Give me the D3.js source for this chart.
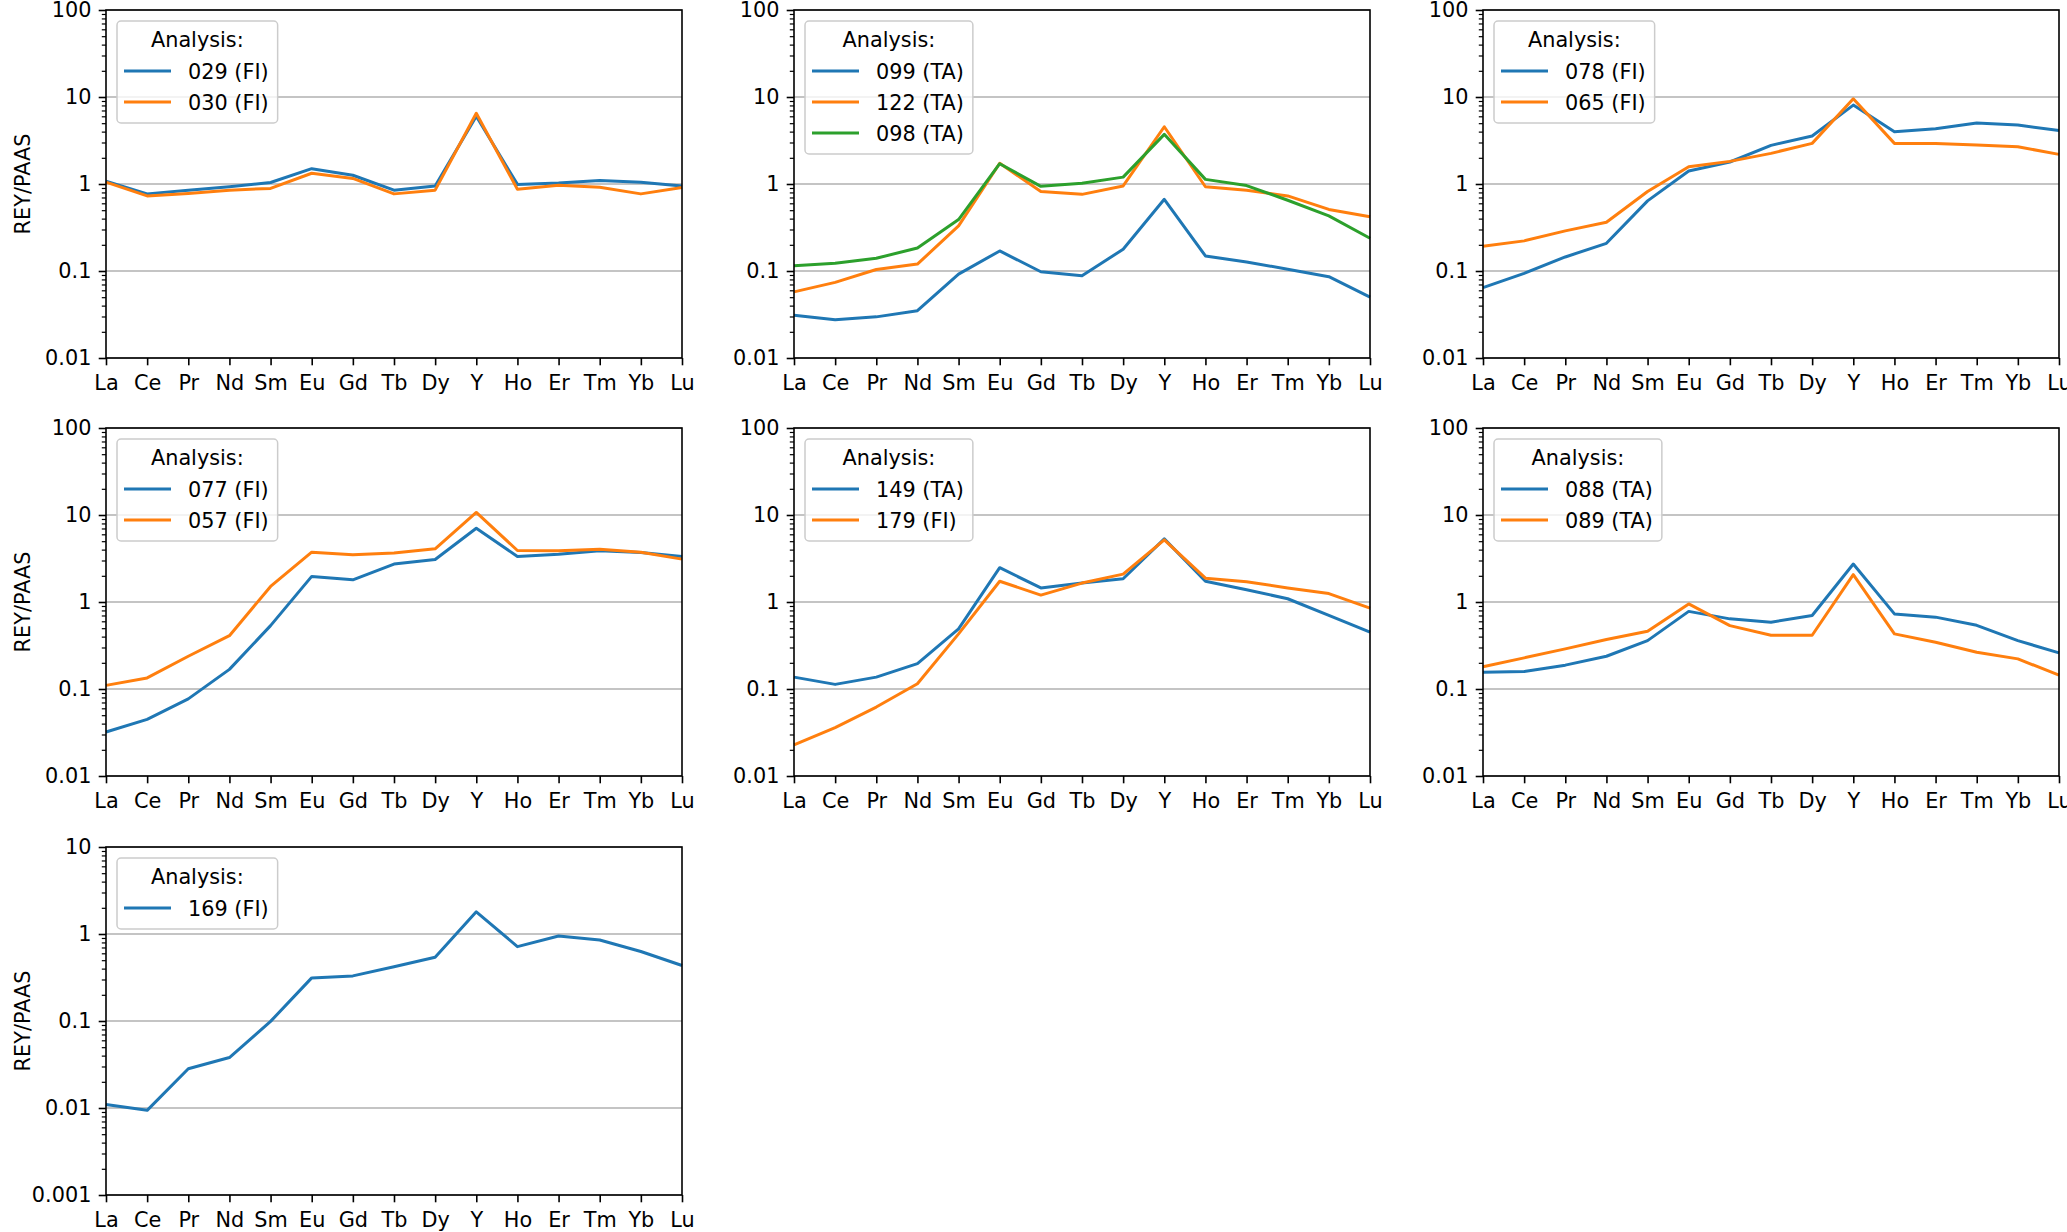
<!DOCTYPE html>
<html>
<head>
<meta charset="utf-8">
<script src="https://cdn.jsdelivr.net/npm/d3@7"></script>
<style>
  body { margin: 0; background: #fff; }
  text { font-family: "DejaVu Sans", sans-serif; }
</style>
</head>
<body>
<script>
var W = 2067, H = 1232;
var fontSize = 20.8;
var colors = ["#1f77b4", "#ff7f0e", "#2ca02c"];

// elements along the x axis
var elements = ["La", "Ce", "Pr", "Nd", "Sm", "Eu", "Gd", "Tb", "Dy", "Y", "Ho", "Er", "Tm", "Yb", "Lu"];

// REY/PAAS values
var a029 = [1.08, 0.77, 0.85, 0.93, 1.04, 1.50, 1.26, 0.85, 0.95, 6.0, 0.99, 1.03, 1.10, 1.05, 0.95];
var a030 = [1.05, 0.73, 0.78, 0.85, 0.89, 1.33, 1.16, 0.77, 0.85, 6.5, 0.87, 0.97, 0.92, 0.77, 0.91];

var a099 = [0.031, 0.0275, 0.0297, 0.035, 0.092, 0.17, 0.098, 0.088, 0.178, 0.667, 0.149, 0.127, 0.105, 0.086, 0.050];
var a122 = [0.0575, 0.074, 0.104, 0.12, 0.33, 1.73, 0.82, 0.76, 0.95, 4.55, 0.93, 0.85, 0.73, 0.51, 0.42];
var a098 = [0.115, 0.123, 0.14, 0.184, 0.39, 1.71, 0.94, 1.02, 1.20, 3.72, 1.13, 0.96, 0.65, 0.43, 0.238];

var a078 = [0.0645, 0.094, 0.145, 0.208, 0.64, 1.41, 1.79, 2.78, 3.56, 8.07, 3.99, 4.32, 5.02, 4.76, 4.13];
var a065 = [0.192, 0.222, 0.289, 0.363, 0.82, 1.58, 1.82, 2.25, 2.93, 9.55, 2.93, 2.93, 2.80, 2.68, 2.19];

var a077 = [0.032, 0.0448, 0.077, 0.168, 0.535, 1.97, 1.80, 2.73, 3.08, 7.05, 3.34, 3.55, 3.88, 3.71, 3.34];
var a057 = [0.110, 0.134, 0.238, 0.41, 1.51, 3.74, 3.49, 3.65, 4.09, 10.7, 3.91, 3.88, 4.05, 3.74, 3.11];

var a149 = [0.137, 0.113, 0.137, 0.196, 0.49, 2.48, 1.45, 1.65, 1.85, 5.32, 1.73, 1.38, 1.09, 0.70, 0.45];
var a179 = [0.0228, 0.036, 0.062, 0.115, 0.43, 1.73, 1.20, 1.65, 2.09, 5.18, 1.88, 1.71, 1.45, 1.25, 0.85];

var a088 = [0.156, 0.159, 0.188, 0.238, 0.36, 0.78, 0.64, 0.585, 0.70, 2.73, 0.73, 0.67, 0.54, 0.36, 0.26];
var a089 = [0.18, 0.228, 0.289, 0.37, 0.46, 0.95, 0.535, 0.415, 0.415, 2.06, 0.43, 0.345, 0.265, 0.222, 0.144];

var a169 = [0.011, 0.0094, 0.0283, 0.038, 0.099, 0.313, 0.33, 0.42, 0.54, 1.80, 0.716, 0.95, 0.853, 0.63, 0.434];

// panels: series and y range
var panels = [
  {series: [["029 (FI)", a029], ["030 (FI)", a030]], ymin: 0.01, ymax: 100},
  {series: [["099 (TA)", a099], ["122 (TA)", a122], ["098 (TA)", a098]], ymin: 0.01, ymax: 100},
  {series: [["078 (FI)", a078], ["065 (FI)", a065]], ymin: 0.01, ymax: 100},
  {series: [["077 (FI)", a077], ["057 (FI)", a057]], ymin: 0.01, ymax: 100},
  {series: [["149 (TA)", a149], ["179 (FI)", a179]], ymin: 0.01, ymax: 100},
  {series: [["088 (TA)", a088], ["089 (TA)", a089]], ymin: 0.01, ymax: 100},
  {series: [["169 (FI)", a169]], ymin: 0.001, ymax: 10}
];

var colLeft = [106, 794, 1483];
var rowTop = [10, 428, 847];
var pw = 576, ph = 348;

var svg = d3.select("body").append("svg")
    .attr("width", W)
    .attr("height", H);
svg.append("rect").attr("width", W).attr("height", H).attr("fill", "#fff");

panels.forEach(function(p, i) {
  var col = i % 3, row = Math.floor(i / 3);
  var g = svg.append("g")
      .attr("transform", "translate(" + colLeft[col] + "," + rowTop[row] + ")");

  var x = d3.scalePoint().domain(elements).range([0, pw]).padding(0);
  var y = d3.scaleLog().domain([p.ymin, p.ymax]).range([ph, 0]);

  var majors = y.ticks().filter(function(t) {
    return Math.abs(Math.log10(t) - Math.round(Math.log10(t))) < 1e-9;
  });
  var minors = y.ticks().filter(function(t) { return majors.indexOf(t) < 0; });

  // grid at decades
  g.selectAll(".grid").data(majors).enter().append("line")
      .attr("x1", 0).attr("x2", pw)
      .attr("y1", function(d) { return y(d); })
      .attr("y2", function(d) { return y(d); })
      .attr("stroke", "#b0b0b0")
      .attr("stroke-width", 1.6);

  // series
  var line = d3.line()
      .x(function(d, k) { return x(elements[k]); })
      .y(function(d) { return y(d); });
  p.series.forEach(function(s, k) {
    g.append("path")
        .attr("d", line(s[1]))
        .attr("fill", "none")
        .attr("stroke", colors[k])
        .attr("stroke-width", 3)
        .attr("stroke-linejoin", "round");
  });

  // y axis
  var yAxis = g.append("g").call(d3.axisLeft(y)
      .tickValues(majors)
      .tickSize(7.3)
      .tickPadding(7.3)
      .tickFormat(function(d) { return d3.format("~g")(d); }));
  yAxis.select(".domain").remove();
  yAxis.selectAll(".tick line").attr("stroke-width", 1.6);
  yAxis.selectAll(".tick text")
      .attr("font-size", fontSize)
      .attr("font-family", "DejaVu Sans")
      .attr("fill", "#000");
  var yMinor = g.append("g").call(d3.axisLeft(y).tickValues(minors).tickSize(4.2).tickFormat(""));
  yMinor.select(".domain").remove();
  yMinor.selectAll(".tick line").attr("stroke-width", 1.2);

  // x axis
  var xAxis = g.append("g")
      .attr("transform", "translate(0," + ph + ")")
      .call(d3.axisBottom(x).tickSize(7.3).tickPadding(10));
  xAxis.select(".domain").remove();
  xAxis.selectAll(".tick line").attr("stroke-width", 1.6);
  xAxis.selectAll(".tick text")
      .attr("font-size", fontSize)
      .attr("font-family", "DejaVu Sans")
      .attr("fill", "#000");

  // frame
  g.append("rect")
      .attr("width", pw).attr("height", ph)
      .attr("fill", "none")
      .attr("stroke", "#000")
      .attr("stroke-width", 1.6);

  if (col === 0) {
    g.append("text")
        .attr("transform", "translate(" + (-76) + "," + (ph / 2) + ") rotate(-90)")
        .attr("text-anchor", "middle")
        .attr("font-size", fontSize)
        .text("REY/PAAS");
  }

  // legend
  var n = p.series.length;
  var lg = g.append("g").attr("transform", "translate(11,11)");
  var box = lg.append("rect")
      .attr("rx", 4).attr("ry", 4)
      .attr("height", 50 + 31 * (n - 1) + 21)
      .attr("fill", "#fff")
      .attr("fill-opacity", 0.8)
      .attr("stroke", "#cccccc")
      .attr("stroke-width", 1.5);
  var maxLen = 0;
  p.series.forEach(function(s, k) {
    var yy = 50 + 31 * k;
    lg.append("line")
        .attr("x1", 7).attr("x2", 54)
        .attr("y1", yy).attr("y2", yy)
        .attr("stroke", colors[k])
        .attr("stroke-width", 3);
    var t = lg.append("text")
        .attr("x", 71).attr("y", yy + 7.5)
        .attr("font-size", fontSize)
        .text(s[0]);
    maxLen = Math.max(maxLen, t.node().getComputedTextLength());
  });
  var bw = 71 + maxLen + 9;
  box.attr("width", bw);
  lg.append("text")
      .attr("x", bw / 2).attr("y", 26)
      .attr("text-anchor", "middle")
      .attr("font-size", fontSize)
      .text("Analysis:");
});
</script>
</body>
</html>
